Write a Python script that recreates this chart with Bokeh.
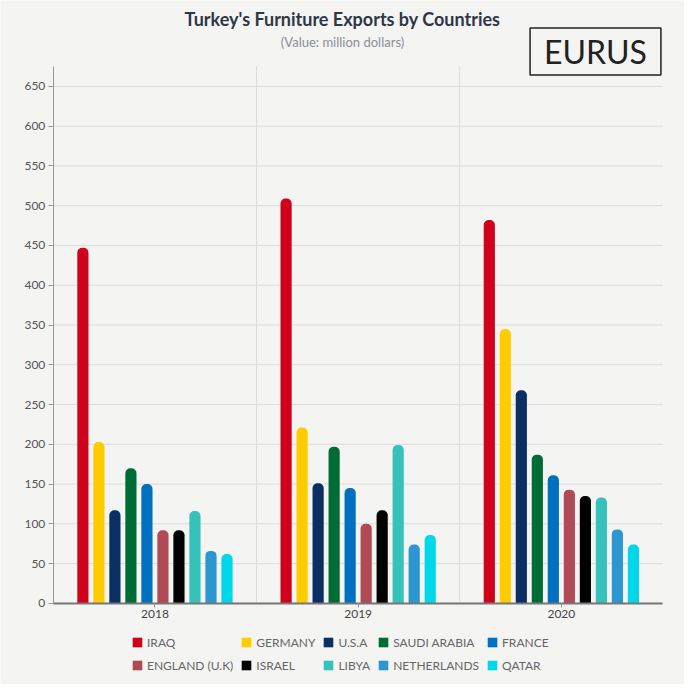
from bokeh.plotting import figure
from bokeh.models import (ColumnDataSource, Range1d, Label, Legend, LegendItem,
                          FixedTicker)
from bokeh.transform import dodge
from bokeh.embed import file_html
from bokeh.resources import INLINE

# ---------------- data ----------------
years = ["2018", "2019", "2020"]
countries = ["IRAQ", "GERMANY", "U.S.A", "SAUDI ARABIA", "FRANCE",
             "ENGLAND (U.K)", "ISRAEL", "LIBYA", "NETHERLANDS", "QATAR"]
iraq = [447, 509, 482]
germany = [203, 221, 345]
usa = [117, 151, 268]
saudi_arabia = [170, 197, 187]
france = [150, 145, 161]
england = [92, 100, 143]
israel = [92, 117, 135]
libya = [116, 199, 133]
netherlands = [66, 74, 93]
qatar = [62, 86, 74]
colors = ["#d0021b", "#ffcc00", "#0b2f63", "#006c35", "#0070c0",
          "#b04a55", "#000000", "#36c1bb", "#2b96cf", "#00d8ea"]
y_ticks = [0, 50, 100, 150, 200, 250, 300, 350, 400, 450, 500, 550, 600, 650]
y_axis_max = 675

series = [iraq, germany, usa, saudi_arabia, france, england, israel, libya,
          netherlands, qatar]

BG = "#f4f4f2"
FONT = "Lato"
GRID = "#dcdcdc"

n = len(years)
centers = [i + 0.5 for i in range(n)]

p = figure(x_range=Range1d(-0.26, 3.106), y_range=Range1d(-102, 758),
           width=684, height=684, min_border=0,
           output_backend="svg", toolbar_location=None)
p.background_fill_color = BG
p.border_fill_color = BG
p.outline_line_color = None
p.xgrid.visible = False
p.ygrid.visible = False

# horizontal grid lines (between the axis and the right end of the categories)
grid_src = ColumnDataSource(dict(y=y_ticks, x0=[0] * len(y_ticks),
                                 x1=[n] * len(y_ticks)))
p.segment(x0="x0", y0="y", x1="x1", y1="y", source=grid_src,
          line_color=GRID, line_width=1)
# category separators
sep_src = ColumnDataSource(dict(x=list(range(1, n)), y0=[0] * (n - 1),
                                y1=[y_axis_max] * (n - 1)))
p.segment(x0="x", y0="y0", x1="x", y1="y1", source=sep_src,
          line_color=GRID, line_width=1)

step = 0.0788
width = 0.055
items = []
for j, (name, vals, col) in enumerate(zip(countries, series, colors)):
    src = ColumnDataSource(dict(xc=centers, val=vals))
    r = p.vbar(x=dodge("xc", (j - 4.5) * step), top="val",
               width=width, source=src, fill_color=col, line_color=None,
               border_radius=(5, 5, 0, 0))
    items.append(LegendItem(label=name, renderers=[r]))

# axes
yax = p.yaxis[0]
yax.fixed_location = 0
yax.bounds = (0, y_axis_max)
yax.ticker = FixedTicker(ticks=y_ticks)
yax.axis_line_color = "#999999"
yax.major_tick_line_color = "#999999"
yax.major_tick_out = 5
yax.major_tick_in = 0
yax.minor_tick_line_color = None
yax.major_label_standoff = 3
yax.major_label_text_font = FONT
yax.major_label_text_font_size = "12px"
yax.major_label_text_color = "#555555"

xax = p.xaxis[0]
xax.fixed_location = 0
xax.bounds = (0, n)
xax.ticker = FixedTicker(ticks=centers)
xax.major_label_overrides = {c: y for c, y in zip(centers, years)}
xax.axis_line_color = "#777777"
xax.axis_line_width = 2
xax.major_tick_line_color = "#999999"
xax.major_tick_out = 4
xax.major_tick_in = 0
xax.minor_tick_line_color = None
xax.major_label_standoff = 3
xax.major_label_text_font = FONT
xax.major_label_text_font_size = "12px"
xax.major_label_text_color = "#444444"

# legend
legend = Legend(items=items, ncols=5, orientation="horizontal",
                location=(131, 11), label_text_font=FONT,
                label_text_font_size="12px", label_text_color="#666666",
                glyph_width=12, glyph_height=12, label_standoff=4,
                label_height=16, spacing=7, padding=4, margin=0,
                background_fill_alpha=0, border_line_color=None)
p.add_layout(legend)

# titles and logo
p.add_layout(Label(x=342, y=666, x_units="screen", y_units="screen",
                   text="Turkey's Furniture Exports by Countries",
                   text_font=FONT, text_font_style="bold",
                   text_font_size="18px", text_color="#2d3748",
                   text_align="center", text_baseline="middle"))
p.add_layout(Label(x=342, y=643, x_units="screen", y_units="screen",
                   text="(Value: million dollars)",
                   text_font=FONT, text_font_size="13px",
                   text_color="#8c8f99",
                   text_align="center", text_baseline="middle"))
p.add_layout(Label(x=595, y=633, x_units="screen", y_units="screen",
                   text="EURUS", text_font=FONT, text_font_size="32px",
                   text_color="#222222", text_align="center",
                   text_baseline="middle",
                   border_line_color="#222222", border_line_width=1.5,
                   padding=dict(left=14, right=14, top=4, bottom=4)))

open("out.html", "w").write(file_html(p, INLINE))
